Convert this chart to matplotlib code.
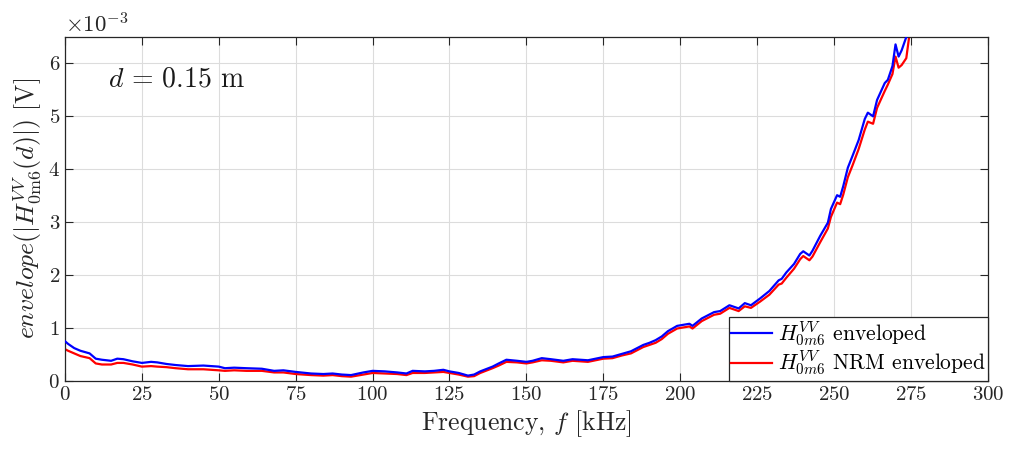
import matplotlib
matplotlib.use("Agg")
import matplotlib.pyplot as plt

plt.rcParams['font.family'] = ['cmr10', 'DejaVu Serif']
plt.rcParams['mathtext.fontset'] = 'cm'
plt.rcParams['axes.formatter.use_mathtext'] = True
plt.rcParams['axes.unicode_minus'] = True

# frequency [kHz] and envelope values [x 1e-3 V]
freq = [0, 1, 3, 5, 8, 10, 12, 15, 17, 19, 22, 25, 28, 30, 33, 36, 40, 45, 50, 52,
        55, 59, 64, 68, 71, 75, 80, 84, 87, 90, 93, 97, 100, 104, 108, 111, 113, 117,
        120, 123, 125, 128, 131, 133, 135, 139, 141, 143.5, 147, 150, 152, 155, 158,
        162, 165, 170, 175, 178, 181, 184, 188, 190, 192, 194, 196, 199, 203, 204,
        207, 211, 213, 216, 217, 219, 221, 223, 226, 229, 232, 233, 234.5, 237, 239,
        240, 242, 243, 245.5, 248, 249, 251, 252, 253, 254.5, 256, 258, 260, 261,
        262.7, 264, 266.5, 267.5, 269, 270, 271, 272, 273.5, 275]

env_blue = [0.75, 0.70, 0.62, 0.57, 0.52, 0.42, 0.40, 0.38, 0.42, 0.41, 0.37, 0.34,
            0.36, 0.35, 0.32, 0.30, 0.28, 0.29, 0.27, 0.24, 0.25, 0.24, 0.23, 0.19,
            0.20, 0.17, 0.14, 0.13, 0.14, 0.12, 0.11, 0.16, 0.19, 0.18, 0.16, 0.14,
            0.19, 0.18, 0.19, 0.21, 0.18, 0.15, 0.10, 0.12, 0.18, 0.27, 0.33, 0.40,
            0.38, 0.36, 0.38, 0.43, 0.41, 0.38, 0.41, 0.39, 0.45, 0.46, 0.51, 0.56,
            0.68, 0.72, 0.77, 0.84, 0.94, 1.04, 1.08, 1.04, 1.18, 1.30, 1.32, 1.43,
            1.41, 1.37, 1.47, 1.43, 1.56, 1.70, 1.90, 1.93, 2.05, 2.21, 2.40, 2.45,
            2.37, 2.46, 2.74, 2.99, 3.25, 3.51, 3.48, 3.68, 4.03, 4.25, 4.55, 4.95,
            5.07, 5.00, 5.31, 5.63, 5.69, 5.95, 6.36, 6.13, 6.25, 6.50, 6.90]

env_red = [0.60, 0.57, 0.52, 0.47, 0.43, 0.33, 0.31, 0.31, 0.34, 0.34, 0.31, 0.27,
           0.28, 0.27, 0.26, 0.24, 0.22, 0.22, 0.20, 0.19, 0.20, 0.19, 0.19, 0.16,
           0.16, 0.13, 0.11, 0.10, 0.11, 0.09, 0.08, 0.12, 0.15, 0.14, 0.13, 0.11,
           0.15, 0.15, 0.16, 0.17, 0.15, 0.12, 0.08, 0.09, 0.15, 0.24, 0.29, 0.36,
           0.35, 0.33, 0.35, 0.39, 0.38, 0.35, 0.38, 0.36, 0.42, 0.43, 0.48, 0.52,
           0.64, 0.68, 0.72, 0.79, 0.89, 0.99, 1.03, 0.99, 1.13, 1.25, 1.27, 1.38,
           1.36, 1.32, 1.41, 1.38, 1.50, 1.63, 1.82, 1.84, 1.95, 2.12, 2.30, 2.36,
           2.28, 2.35, 2.62, 2.88, 3.10, 3.37, 3.34, 3.52, 3.85, 4.07, 4.38, 4.75,
           4.90, 4.86, 5.16, 5.48, 5.60, 5.80, 6.13, 5.92, 5.97, 6.10, 6.75]

fig = plt.figure(figsize=(10.09, 4.54), dpi=100)
ax = fig.add_axes([0.0644, 0.161, 0.9146, 0.7575])

ax.plot(freq, [v * 1e-3 for v in env_blue], color='#0000ff', lw=1.6, zorder=3,
        label=r'$H_{0m6}^{VV}$ enveloped')
ax.plot(freq, [v * 1e-3 for v in env_red], color='#ff0000', lw=1.6, zorder=2,
        label=r'$H_{0m6}^{VV}$ NRM enveloped')

ax.set_xlim(0, 300)
ax.set_ylim(0, 6.5e-3)
ax.set_xticks(range(0, 301, 25))
ax.set_yticks([i * 1e-3 for i in range(7)])
ax.ticklabel_format(axis='y', style='sci', scilimits=(0, 0), useMathText=True)
ax.yaxis.get_offset_text().set_fontsize(16.5)
ax.yaxis.get_offset_text().set_color('#262626')

ax.grid(True, color='#dcdcdc', lw=0.8)
ax.set_axisbelow(True)
ax.tick_params(direction='in', top=True, right=True, length=6, width=0.8,
               labelsize=15, colors='#262626', labelcolor='#262626')
for s in ax.spines.values():
    s.set_color('#262626')
    s.set_linewidth(0.9)

ax.set_xlabel(r'Frequency, $f$ [kHz]', fontsize=18.5, color='#262626', labelpad=3)
ax.set_ylabel(r'$envelope(|H^{VV}_{0\mathrm{m}6}(d)|)$ [V]', fontsize=18.5,
              color='#262626', labelpad=3)

ax.text(0.047, 0.855, r'$d\,=\,0.15$ m', transform=ax.transAxes, fontsize=20,
        color='#1a1a1a')

leg = ax.legend(loc='lower right', fontsize=15.5, borderaxespad=0, fancybox=False,
                framealpha=1, edgecolor='#262626', handlelength=1.9,
                handletextpad=0.25, borderpad=0.12, labelspacing=0.0)
leg.get_frame().set_linewidth(0.9)

fig.savefig('out.png', dpi=100)
